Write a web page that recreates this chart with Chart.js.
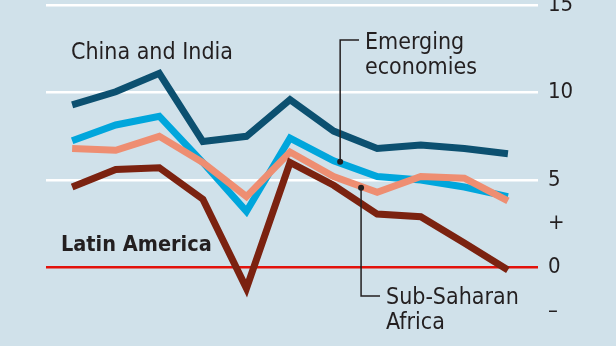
<!DOCTYPE html>
<html>
<head>
<meta charset="utf-8">
<script src="https://cdn.jsdelivr.net/npm/chart.js@4.4.0/dist/chart.umd.min.js"></script>
<style>
  html, body { margin: 0; padding: 0; background: #d0e1ea; }
  #wrap { width: 616px; height: 346px; position: relative; }
</style>
</head>
<body>
<div id="wrap"><canvas id="myChart"></canvas></div>
<script>
// Datos de la gráfica
const years = [0, 1, 2, 3, 4, 5, 6, 7, 8, 9, 10];
const chinaIndia = [9.3, 10.05, 11.1, 7.2, 7.5, 9.6, 7.8, 6.8, 7.0, 6.8, 6.5];
const emerging = [7.25, 8.15, 8.65, 6.0, 3.2, 7.4, 6.1, 5.2, 5.0, 4.6, 4.05];
const subSaharan = [6.8, 6.7, 7.5, 6.0, 4.05, 6.6, 5.2, 4.3, 5.2, 5.1, 3.8];
const latinAmerica = [4.6, 5.6, 5.7, 3.9, -1.2, 6.0, 4.7, 3.05, 2.9, 1.4, -0.15];
const tickValues = [-2.5, 0, 2.5, 5, 10, 15];
const tickText = { '-2.5': '–', '0': '0', '2.5': '+', '5': '5', '10': '10', '15': '15' };

const FONT = '"DejaVu Sans Condensed", "Liberation Sans Narrow", sans-serif';
const TEXT = '#231f20';

function serie(values, color) {
    return {
        data: years.map((x, i) => ({ x: x, y: values[i] })),
        borderColor: color,
        borderWidth: 7,
        borderJoinStyle: 'miter',
        borderCapStyle: 'butt',
        pointRadius: 0,
        tension: 0
    };
}

// Etiquetas y líneas guía
const labelsPlugin = {
    id: 'labels',
    afterDatasetsDraw(chart) {
        const ctx = chart.ctx;
        const xs = chart.scales.x;
        const ys = chart.scales.y;
        ctx.save();
        ctx.fillStyle = TEXT;
        ctx.textBaseline = 'middle';
        ctx.font = '23px ' + FONT;
        ctx.fillText('China and India', 71, 53);
        ctx.fillText('Emerging', 365, 43);
        ctx.fillText('economies', 365, 68);
        ctx.fillText('Sub-Saharan', 386, 298);
        ctx.fillText('Africa', 386, 323);
        ctx.font = 'bold 21.5px ' + FONT;
        ctx.fillText('Latin America', 61, 245);

        // líneas guía
        ctx.strokeStyle = TEXT;
        ctx.lineWidth = 1.5;
        const ex = xs.getPixelForValue(6.15);
        const ey = ys.getPixelForValue(6.05);
        ctx.beginPath();
        ctx.moveTo(359, 40);
        ctx.lineTo(ex, 40);
        ctx.lineTo(ex, ey);
        ctx.stroke();
        const sx = xs.getPixelForValue(6.63);
        const sy = ys.getPixelForValue(4.55);
        ctx.beginPath();
        ctx.moveTo(sx, sy);
        ctx.lineTo(sx, 296);
        ctx.lineTo(380, 296);
        ctx.stroke();
        [[ex, ey], [sx, sy]].forEach(p => {
            ctx.beginPath();
            ctx.arc(p[0], p[1], 3, 0, Math.PI * 2);
            ctx.fill();
        });
        ctx.restore();
    }
};

const ctx = document.getElementById('myChart').getContext('2d');
const myChart = new Chart(ctx, {
    type: 'line',
    data: {
        datasets: [
            serie(chinaIndia, '#0c5070'),
            serie(latinAmerica, '#7b2210'),
            serie(subSaharan, '#ee8e72'),
            serie(emerging, '#00a6dc')
        ]
    },
    options: {
        responsive: true,
        maintainAspectRatio: false,
        animation: false,
        layout: { padding: { left: 46, top: 0, bottom: 0, right: 0 } },
        plugins: { legend: { display: false }, tooltip: { enabled: false } },
        scales: {
            x: {
                type: 'linear',
                min: -0.6,
                max: 10.69,
                display: false
            },
            y: {
                position: 'right',
                min: -4.5,
                max: 15.3,
                afterBuildTicks: axis => { axis.ticks = tickValues.map(v => ({ value: v })); },
                afterFit: axis => {
                    axis.width = 78;
                    axis.paddingTop = 0;
                    axis.paddingBottom = 0;
                },
                border: { display: false },
                grid: {
                    drawTicks: false,
                    lineWidth: 2.5,
                    color: c => c.tick.value === 0 ? '#e3120b' : (c.tick.value === 2.5 || c.tick.value === -2.5 ? 'rgba(0,0,0,0)' : '#ffffff')
                },
                ticks: {
                    padding: 10,
                    color: TEXT,
                    font: { family: FONT, size: 22 },
                    callback: v => tickText[String(v)]
                }
            }
        }
    },
    plugins: [labelsPlugin]
});
</script>
</body>
</html>
